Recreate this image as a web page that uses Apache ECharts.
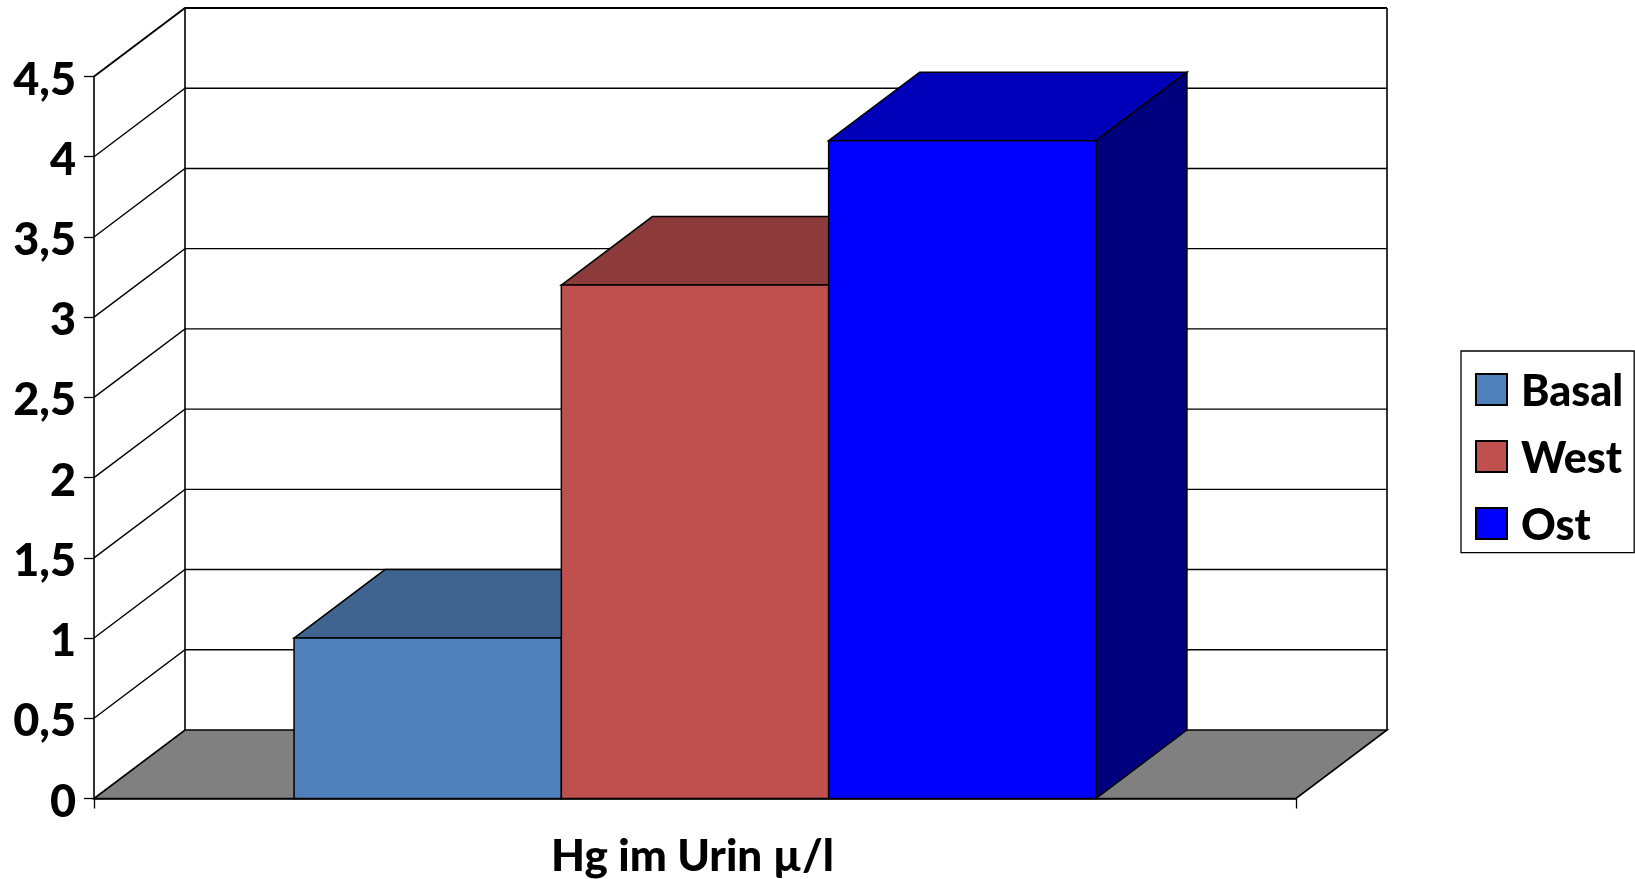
<!DOCTYPE html>
<html><head><meta charset="utf-8">
<style>html,body{margin:0;padding:0;background:#fff}#c{width:1635px;height:879px}</style>
<script src="https://cdn.jsdelivr.net/npm/echarts@6/dist/echarts.min.js"></script>
</head><body><div id="c"></div>
<script>
const categories = ['Hg im Urin µ/l'];
const yTicks = [0,0.5,1,1.5,2,2.5,3,3.5,4,4.5];
const basal = [1.0];
const west = [3.2];
const ost = [4.1];

const DX = 91, DY = 68.5, BARW = 267.3;
const FONT = 'Lato';
const LINE = '#000';

function poly(points, fill, lw, z2) {
  return {type:'polygon', z2:z2||0, shape:{points}, style:{fill:fill, stroke:LINE, lineWidth:lw||1.5, lineJoin:'miter'}};
}
function line(points, lw, z2) {
  return {type:'polyline', z2:z2||0, shape:{points}, style:{fill:'none', stroke:LINE, lineWidth:lw||1.3}};
}
function wallItem(params, api) {
  const t = api.value(1);
  const p = api.coord([0, t]);
  const band = api.size([1,0])[0];
  const x0 = p[0]-band/2, x1 = p[0]+band/2, y = p[1];
  const children = [];
  if (params.dataIndex === 0) {
    const top = api.coord([0, yTicks[yTicks.length-1]])[1];
    children.push(poly([[x0,y],[x0+DX,y-DY],[x1+DX,y-DY],[x1,y]], '#808080', 1.6));
    children.push(line([[x0+DX,y-DY],[x0+DX,top-DY]], 1.6));
    children.push(line([[x1+DX,y-DY],[x1+DX,top-DY]], 1.6));
  } else {
    const last = params.dataIndex === yTicks.length-1;
    children.push(line([[x0,y],[x0+DX,y-DY],[x1+DX,y-DY]], last?1.8:1.4));
  }
  return {type:'group', children};
}
function barRender(order, front, top, side) {
  return function(params, api) {
    const p = api.coord([0, api.value(1)]);
    const base = api.coord([0, 0])[1];
    const l = p[0] + (order-1.5)*BARW, r = l+BARW, y = p[1];
    return {type:'group', children:[
      poly([[l,y],[l+DX,y-DY],[r+DX,y-DY],[r,y]], top),
      poly([[r,y],[r+DX,y-DY],[r+DX,base-DY],[r,base]], side),
      poly([[l,y],[r,y],[r,base],[l,base]], front)
    ]};
  };
}
function barSeries(name, values, order, front, top, side) {
  return {name, type:'custom', z:3+order, silent:true,
    itemStyle:{color:front, borderColor:'#000', borderWidth:1.5},
    data: values.map((v,i)=>[i,v]), encode:{x:0,y:1},
    renderItem: barRender(order, front, top, side)};
}
const chart = echarts.init(document.getElementById('c'));
chart.setOption({
  animation:false,
  backgroundColor:'#fff',
  grid:{left:94, width:1202, top:76.5, height:722, containLabel:false},
  legend:{
    orient:'vertical', left:1461, top:351, align:'left',
    data:['Basal','West','Ost'], icon:'rect', itemWidth:31, itemHeight:31, itemGap:24,
    backgroundColor:'#fff', borderColor:'#000', borderWidth:1.3, padding:[20,11,4.7,14],
    selectedMode:false,
    formatter:'{a|{name}}',
    textStyle:{rich:{a:{fontFamily:FONT, fontWeight:900, fontSize:43, color:'#000', padding:[6,0,0,9]}}}
  },
  xAxis:{type:'category', data:categories, boundaryGap:true,
    axisLine:{lineStyle:{color:'#000', width:1.6}},
    axisTick:{show:true, length:10, inside:false, lineStyle:{color:'#000', width:1.3}},
    axisLabel:{margin:36, formatter:v=>'{a|'+v+'}',
      rich:{a:{fontFamily:FONT, fontWeight:900, fontSize:44, color:'#000', padding:[0,5,0,0]}}},
    splitLine:{show:false}},
  yAxis:{type:'value', min:0, max:4.5, interval:0.5,
    axisLine:{show:true, lineStyle:{color:'#000', width:1.6}},
    axisTick:{show:true, length:10, lineStyle:{color:'#000', width:1.3}},
    axisLabel:{fontFamily:FONT, fontWeight:900, fontSize:45, color:'#000', margin:18,
      verticalAlign:'top', lineHeight:7,
      formatter:v=>String(v).replace('.',',')},
    splitLine:{show:false}},
  series:[
    {name:'wall', type:'custom', z:1, silent:true,
     data:yTicks.map(t=>[0,t]), encode:{x:0,y:1}, renderItem:wallItem},
    barSeries('Basal', basal, 0, '#4F81BD', '#3E648F', '#2F4B6C'),
    barSeries('West', west, 1, '#C0504D', '#8C3A3A', '#6A2C2A'),
    barSeries('Ost', ost, 2, '#0000FF', '#0000BB', '#00007F')
  ]
});
</script></body></html>
